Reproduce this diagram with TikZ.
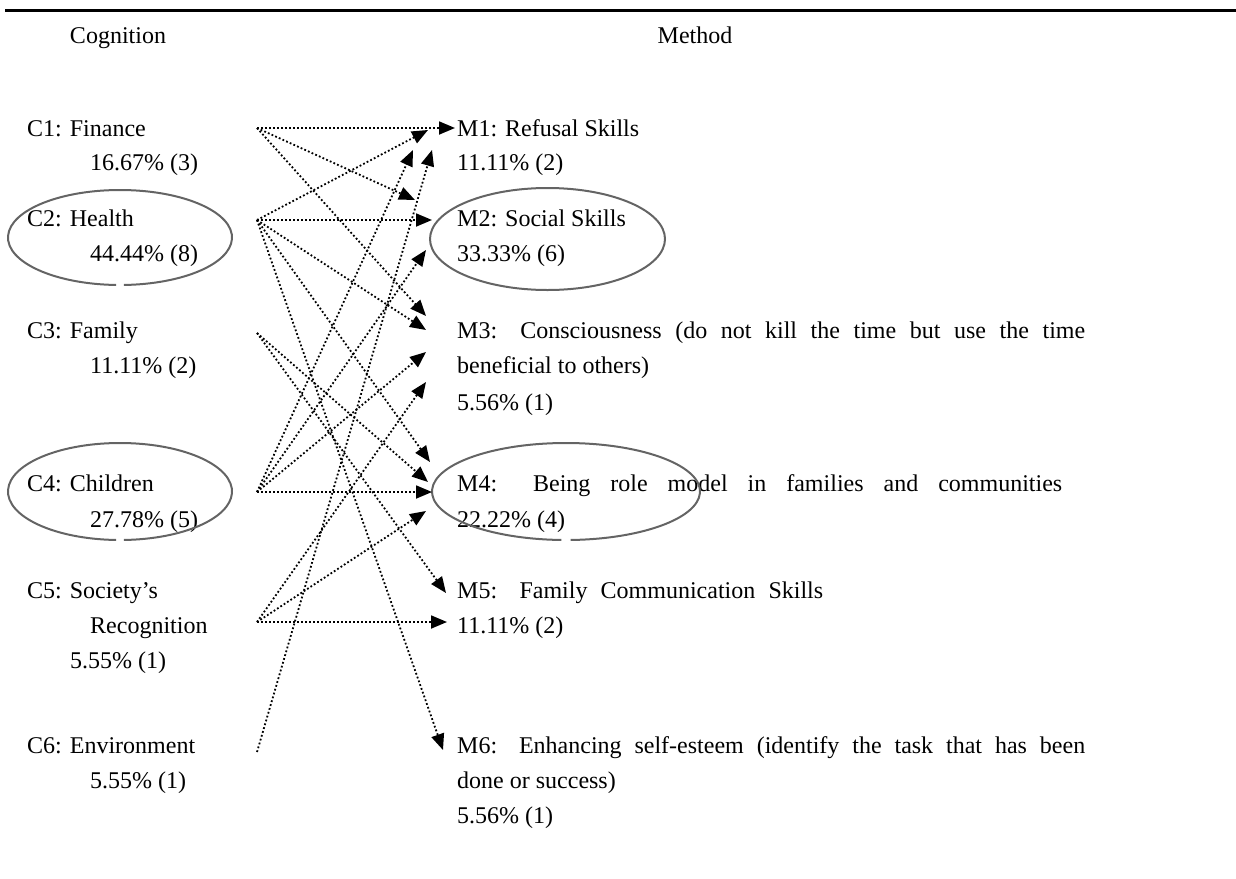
\documentclass[tikz,border=0pt]{standalone}
\usepackage{fontspec}
\setmainfont{Liberation Serif}
\usetikzlibrary{arrows.meta}
\definecolor{ringgray}{RGB}{100,100,100}
\begin{document}
\begin{tikzpicture}[x=1pt,y=-1pt,
  txt/.style={anchor=base west,inner sep=0pt,font=\fontsize{24}{28}\selectfont},
  hdr/.style={anchor=base,inner sep=0pt,font=\fontsize{24}{28}\selectfont},
  link/.style={line width=1.8pt,dash pattern=on 1.8pt off 2.2pt,-{Triangle[length=16pt,width=13pt]}},
  ring/.style={draw=ringgray,line width=2pt}]
\useasboundingbox (0,0) rectangle (1236,878);
% top rule
\draw[line width=3pt] (5,10) -- (1236,10);
% headers
\node[hdr] (hcog) at (118,43) {Cognition};
\node[hdr] (hmet) at (695,43) {Method};
% left column
\node[txt] (c1a) at (27,136) {C1: Finance};
\node[txt] (c1b) at (90,170) {16.67\% (3)};
\node[txt] (c2a) at (27,226) {C2: Health};
\node[txt] (c2b) at (90,261) {44.44\% (8)};
\node[txt] (c3a) at (27,338) {C3: Family};
\node[txt] (c3b) at (90,373) {11.11\% (2)};
\node[txt] (c4a) at (27,491) {C4: Children};
\node[txt] (c4b) at (90,527) {27.78\% (5)};
\node[txt] (c5a) at (27,598) {C5: Society’s};
\node[txt] (c5b) at (90,633) {Recognition};
\node[txt] (c5c) at (70,668) {5.55\% (1)};
\node[txt] (c6a) at (27,753) {C6: Environment};
\node[txt] (c6b) at (90,788) {5.55\% (1)};
% right column
\node[txt] (m1a) at (457,136) {M1: Refusal Skills};
\node[txt] (m1b) at (457,170) {11.11\% (2)};
\node[txt] (m2a) at (457,226) {M2: Social Skills};
\node[txt] (m2b) at (457,261) {33.33\% (6)};
\node[txt] (m3a) at (457,338) {\makebox[628pt][s]{M3: Consciousness (do not kill the time but use the time}};
\node[txt] (m3b) at (457,373) {beneficial to others)};
\node[txt] (m3c) at (457,410) {5.56\% (1)};
\node[txt] (m4a) at (457,491) {\makebox[605pt][s]{M4: Being role model in families and communities}};
\node[txt] (m4b) at (457,527) {22.22\% (4)};
\node[txt] (m5a) at (457,598) {\makebox[366pt][s]{M5: Family Communication Skills}};
\node[txt] (m5b) at (457,633) {11.11\% (2)};
\node[txt] (m6a) at (457,753) {\makebox[628pt][s]{M6: Enhancing self-esteem (identify the task that has been}};
\node[txt] (m6b) at (457,788) {done or success)};
\node[txt] (m6c) at (457,823) {5.56\% (1)};
% ellipses (small gap at the bottom)
\draw[ring] (120,237.5) ++(92:112 and 47.5) arc[start angle=92,end angle=448,x radius=112,y radius=47.5];
\draw[ring] (547.5,239) ++(0:117.5 and 51) arc[start angle=0,end angle=360,x radius=117.5,y radius=51];
\draw[ring] (120,491.5) ++(92:112 and 48.5) arc[start angle=92,end angle=448,x radius=112,y radius=48.5];
\draw[ring] (566,491.5) ++(92:134 and 48.5) arc[start angle=92,end angle=448,x radius=134,y radius=48.5];
% sources
\coordinate (s1) at (257,128);
\coordinate (s2) at (257,220);
\coordinate (s3) at (257,333);
\coordinate (s4) at (257,492);
\coordinate (s5) at (257,622);
\coordinate (s6) at (257,752);
% tips
\coordinate (t11) at (455,128);
\coordinate (t12) at (415,200);
\coordinate (t13) at (426,316);
\coordinate (t21) at (428,130);
\coordinate (t22) at (432,220);
\coordinate (t23) at (426,330);
\coordinate (t24) at (430,462);
\coordinate (t26) at (443,750);
\coordinate (t34) at (428,482);
\coordinate (t35) at (446,593);
\coordinate (t41) at (413,150);
\coordinate (t42) at (426,250);
\coordinate (t43) at (426,352);
\coordinate (t44) at (432,492);
\coordinate (t53) at (426,382);
\coordinate (t54) at (426,511);
\coordinate (t55) at (447,622);
\coordinate (t61) at (432,150);
% links
\draw[link] (s1) -- (t11);
\draw[link] (s1) -- (t12);
\draw[link] (s1) -- (t13);
\draw[link] (s2) -- (t21);
\draw[link] (s2) -- (t22);
\draw[link] (s2) -- (t23);
\draw[link] (s2) -- (t24);
\draw[link] (s2) -- (t26);
\draw[link] (s3) -- (t34);
\draw[link] (s3) -- (t35);
\draw[link] (s4) -- (t41);
\draw[link] (s4) -- (t42);
\draw[link] (s4) -- (t43);
\draw[link] (s4) -- (t44);
\draw[link] (s5) -- (t53);
\draw[link] (s5) -- (t54);
\draw[link] (s5) -- (t55);
\draw[link] (s6) -- (t61);
\end{tikzpicture}
\end{document}
